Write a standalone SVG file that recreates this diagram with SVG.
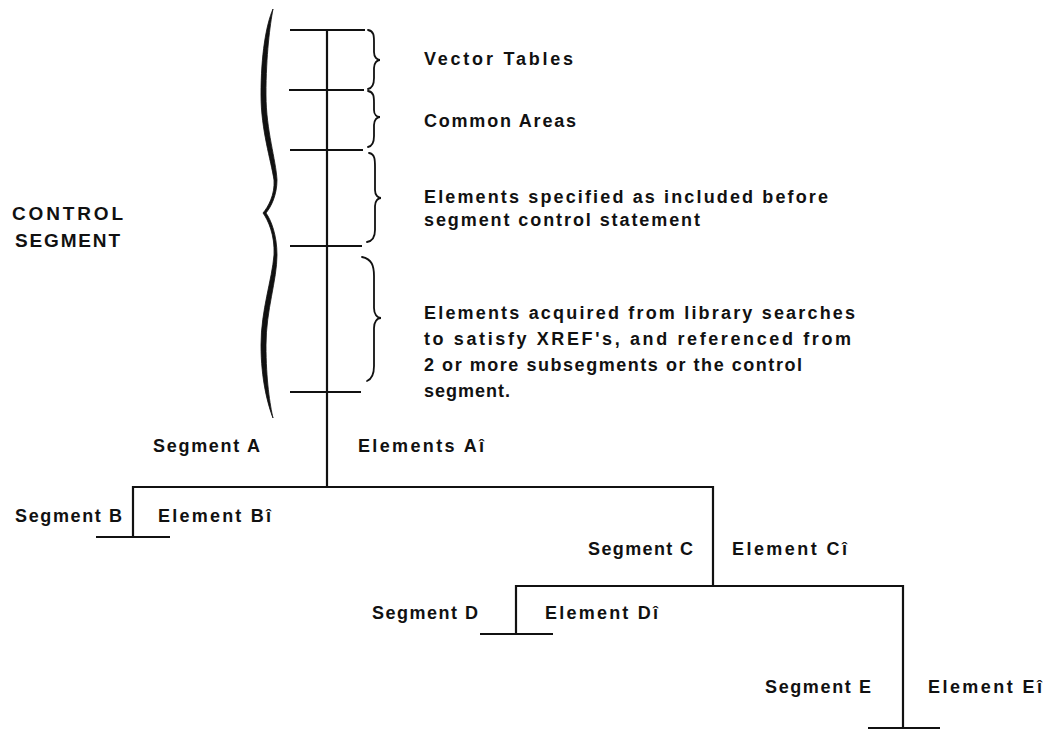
<svg xmlns="http://www.w3.org/2000/svg" width="1049" height="730" viewBox="0 0 1049 730">
<style>
  text { font-family: "Liberation Sans", Arial, sans-serif; font-size: 18px; font-weight: bold; fill: #111; }
  .big { font-size: 19px; }
  .ln { stroke: #111; stroke-width: 2.2; fill: none; stroke-linecap: butt; }
  .br { stroke: #111; stroke-width: 1.8; fill: none; stroke-linecap: round; }
  .bb { fill: #111; stroke: #111; stroke-width: 0.8; }
</style>
<rect width="1049" height="730" fill="#ffffff"/>

<g id="connectors">
  <path class="ln" d="M327,30 V487"/>
  <path class="ln" d="M290,30 H365 M289,90 H364 M290,150 H363 M290,246 H362 M290,392 H361"/>
  <path class="ln" d="M133,537 V487 H713 V586"/>
  <path class="ln" d="M96,537 H170"/>
  <path class="ln" d="M516,634 V586 H903 V728"/>
  <path class="ln" d="M480,634 H553"/>
  <path class="ln" d="M868,728 H940"/>
</g>

<g id="control-segment">
  <path class="bb" d="M273,9 C266,25 261,55 261,95 C261,130 271,160 274,180 C275,195 268,207 263,213 C268,220 275,235 274,255 C272,280 261,310 261,345 C261,380 268,405 273,418 C270,405 266,380 266,345 C266,310 277,280 277,255 C277,235 271,220 266,213 C271,207 277,195 277,180 C276,160 266,130 266,95 C266,55 270,25 273,9 Z"/>
  <text class="big" x="12" y="220" textLength="111" lengthAdjust="spacing">CONTROL</text>
  <text class="big" x="15" y="247" textLength="105" lengthAdjust="spacing">SEGMENT</text>
</g>

<g id="vector-tables">
  <path class="br" d="M368,30 C374,31 374,36 374,42 L374,52 C374,57 377,60 380,60 C377,60 374,63 374,68 L374,78 C374,84 373,88 368,89"/>
  <text x="424" y="65" textLength="149" lengthAdjust="spacing">Vector Tables</text>
</g>

<g id="common-areas">
  <path class="br" d="M368,91 C374,92 374,97 374,103 L374,110 C374,115 377,117 380,117 C377,117 374,120 374,125 L374,136 C374,142 373,146 368,147"/>
  <text x="424" y="127" textLength="152" lengthAdjust="spacing">Common Areas</text>
</g>

<g id="included-elements">
  <path class="br" d="M369,153 C375,154 375,160 375,167 L375,190 C375,195 378,198 381,198 C378,198 375,201 375,206 L375,230 C375,237 373,241 367,242"/>
  <text x="424" y="203" textLength="404" lengthAdjust="spacing">Elements specified as included before</text>
  <text x="424" y="226" textLength="276" lengthAdjust="spacing">segment control statement</text>
</g>

<g id="library-elements">
  <path class="br" d="M362,257 C372,259 374,266 374,276 L374,308 C374,314 377,318 381,318 C377,318 374,322 374,328 L374,366 C374,375 372,379 367,381"/>
  <text x="424" y="319" textLength="431" lengthAdjust="spacing">Elements acquired from library searches</text>
  <text x="424" y="345" textLength="427" lengthAdjust="spacing">to satisfy XREF's, and referenced from</text>
  <text x="424" y="371" textLength="378" lengthAdjust="spacing">2 or more subsegments or the control</text>
  <text x="424" y="397" textLength="86" lengthAdjust="spacing">segment.</text>
</g>

<g id="segment-a">
  <text x="153" y="452" textLength="107" lengthAdjust="spacing">Segment A</text>
  <text x="358" y="452" textLength="126" lengthAdjust="spacing">Elements Aî</text>
</g>

<g id="segment-b">
  <text x="15" y="522" textLength="107" lengthAdjust="spacing">Segment B</text>
  <text x="158" y="522" textLength="113" lengthAdjust="spacing">Element Bî</text>
</g>

<g id="segment-c">
  <text x="588" y="555" textLength="105" lengthAdjust="spacing">Segment C</text>
  <text x="732" y="555" textLength="115" lengthAdjust="spacing">Element Cî</text>
</g>

<g id="segment-d">
  <text x="372" y="619" textLength="106" lengthAdjust="spacing">Segment D</text>
  <text x="545" y="619" textLength="113" lengthAdjust="spacing">Element Dî</text>
</g>

<g id="segment-e">
  <text x="765" y="693" textLength="106" lengthAdjust="spacing">Segment E</text>
  <text x="928" y="693" textLength="114" lengthAdjust="spacing">Element Eî</text>
</g>
</svg>
